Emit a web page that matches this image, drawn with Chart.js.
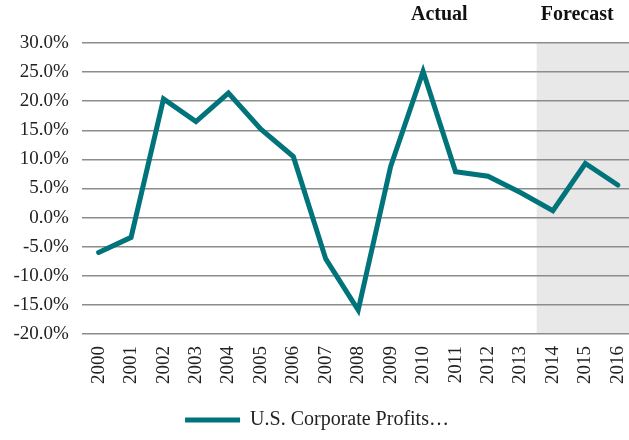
<!DOCTYPE html>
<html>
<head>
<meta charset="utf-8">
<script src="https://cdn.jsdelivr.net/npm/chart.js@4"></script>
<style>
  html, body { margin: 0; padding: 0; background: #fff; overflow: hidden; }
  #wrap { width: 636px; height: 440px; }
</style>
</head>
<body>
<div id="wrap"><canvas id="chart"></canvas></div>
<script>
// data
const years = ['2000','2001','2002','2003','2004','2005','2006','2007','2008','2009','2010','2011','2012','2013','2014','2015','2016'];
const profits = [-6.0, -3.4, 20.4, 16.5, 21.4, 15.2, 10.5, -7.1, -15.9, 8.8, 25.1, 7.9, 7.1, 4.3, 1.2, 9.3, 5.6];
const seriesName = 'U.S. Corporate Profits\u2026';
const forecastStart = 13.5;

const serif = "'Liberation Serif', 'DejaVu Serif', serif";

// grey forecast band + Actual / Forecast headers
const bandPlugin = {
    id: 'band',
    beforeDraw(chart) {
        const { ctx, chartArea, scales } = chart;
        const x0 = scales.x.getPixelForValue(forecastStart);
        ctx.save();
        ctx.fillStyle = '#e8e8e8';
        ctx.fillRect(x0, chartArea.top, chartArea.right - x0, chartArea.bottom - chartArea.top);
        ctx.restore();
    },
    afterDraw(chart) {
        const { ctx, scales } = chart;
        ctx.save();
        ctx.font = 'bold 20px ' + serif;
        ctx.fillStyle = '#111';
        ctx.textAlign = 'center';
        ctx.textBaseline = 'middle';
        ctx.fillText('Actual', scales.x.getPixelForValue(10.5), 15);
        ctx.fillText('Forecast', scales.x.getPixelForValue(14.75), 15);
        ctx.restore();
    }
};

new Chart(document.getElementById('chart'), {
    type: 'line',
    data: {
        labels: years,
        datasets: [{
            label: seriesName,
            data: profits,
            borderColor: '#00747a',
            backgroundColor: '#00747a',
            borderWidth: 5,
            pointRadius: 0,
            tension: 0,
            borderCapStyle: 'round',
            borderJoinStyle: 'miter'
        }]
    },
    options: {
        responsive: true,
        maintainAspectRatio: false,
        animation: false,
        layout: { padding: { top: 43, left: 0, right: 2, bottom: 0 } },
        plugins: {
            legend: {
                position: 'bottom',
                labels: {
                    color: '#222',
                    font: { family: serif, size: 20 },
                    boxWidth: 55,
                    boxHeight: 0,
                    padding: 10,
                    generateLabels(chart) {
                        const ds = chart.data.datasets[0];
                        return [{
                            text: ds.label,
                            strokeStyle: ds.borderColor,
                            fillStyle: ds.borderColor,
                            lineWidth: 5,
                            lineCap: 'round',
                            datasetIndex: 0,
                            fontColor: '#222'
                        }];
                    }
                }
            },
            tooltip: { enabled: false }
        },
        scales: {
            x: {
                offset: true,
                grid: { display: false, drawTicks: false },
                border: { display: false },
                afterFit(s) {
                    s.height += 4;
                    // the year labels may hang past the plot edges
                    s.paddingLeft = 0;
                    s.paddingRight = 0;
                },
                ticks: {
                    color: '#222',
                    font: { family: serif, size: 19 },
                    minRotation: 90,
                    maxRotation: 90,
                    padding: 12
                }
            },
            y: {
                min: -20,
                max: 30,
                grid: { color: '#8c8c8c', lineWidth: 1.5, drawTicks: false },
                border: { display: false },
                ticks: {
                    stepSize: 5,
                    color: '#222',
                    font: { family: serif, size: 19 },
                    padding: 13.5,
                    callback: v => v.toFixed(1) + '%'
                }
            }
        }
    },
    plugins: [bandPlugin]
});
</script>
</body>
</html>
